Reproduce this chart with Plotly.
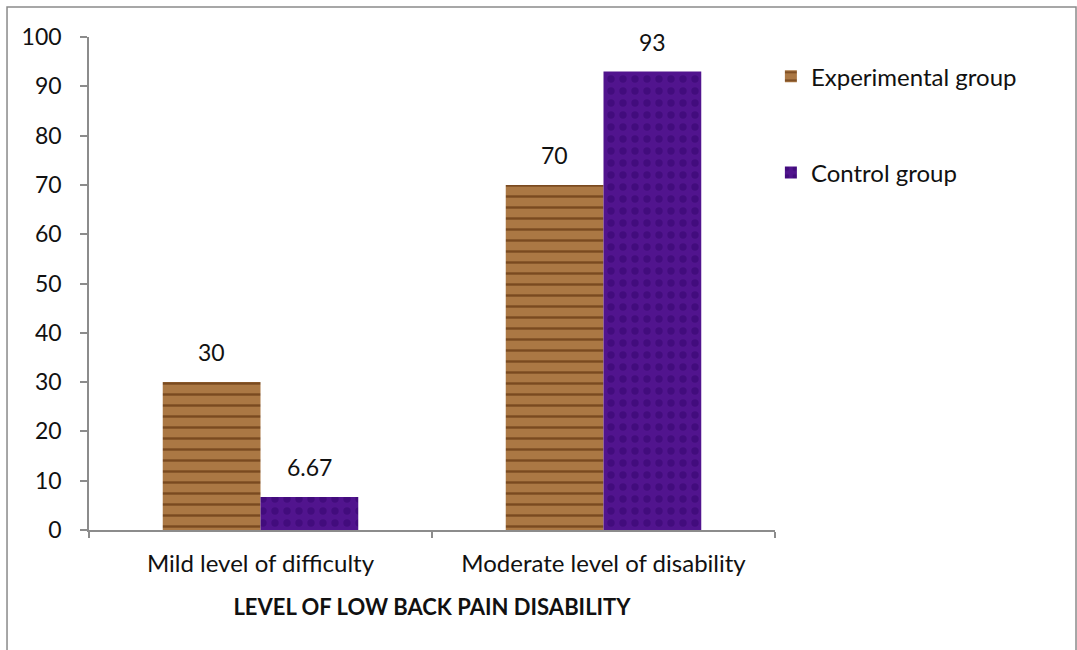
import plotly.graph_objects as go

# Chart data
categories = ["Mild level of difficulty", "Moderate level of disability"]
experimental = [30, 70]
control = [6.67, 93]
experimental_labels = ["30", "70"]
control_labels = ["6.67", "93"]
y_ticks = [0, 10, 20, 30, 40, 50, 60, 70, 80, 90, 100]

FONT = "Lato, 'Open Sans', sans-serif"
AXIS_GREY = "#8c8c8c"
TEXT = "#111111"
HALF_BAR_PX = 49  # half of one bar's width in pixels, used to centre value labels

fig = go.Figure()

fig.add_trace(go.Bar(
    name="Experimental group",
    x=categories,
    y=experimental,
    legendgroup="exp",
    marker=dict(
        color="#a8733f",
        line=dict(width=0),
        pattern=dict(shape="-", fgcolor="#7a4a20", bgcolor="#ab7844",
                     size=11, solidity=0.22, fillmode="replace"),
    ),
))

fig.add_trace(go.Bar(
    name="Control group",
    x=categories,
    y=control,
    legendgroup="ctl",
    marker=dict(
        color="#4f1290",
        line=dict(width=0),
        pattern=dict(shape=".", fgcolor="#420c7d", bgcolor="#51148e",
                     size=12, solidity=0.3, fillmode="replace"),
    ),
))

# Value labels above each bar
annotations = []
for values, labels, shift in ((experimental, experimental_labels, -HALF_BAR_PX),
                              (control, control_labels, HALF_BAR_PX)):
    for cat, val, lab in zip(categories, values, labels):
        annotations.append(dict(
            x=cat, y=val, xref="x", yref="y", text=lab, showarrow=False,
            xshift=shift, yshift=14, yanchor="bottom",
            font=dict(family=FONT, size=23, color=TEXT),
        ))

fig.update_layout(
    width=1077,
    height=650,
    margin=dict(l=89, r=302, t=37, b=120),
    paper_bgcolor="white",
    plot_bgcolor="white",
    barmode="group",
    bargap=0.43,
    bargroupgap=0,
    font=dict(family=FONT, size=22, color=TEXT),
    showlegend=True,
    legend=dict(
        x=0.994, y=0.965, xanchor="left", yanchor="top",
        font=dict(family=FONT, size=24, color=TEXT),
        tracegroupgap=62,
        bgcolor="rgba(0,0,0,0)",
        itemwidth=30,
    ),
    xaxis=dict(
        showline=True, linecolor=AXIS_GREY, linewidth=1.5,
        ticks="outside", tickson="boundaries", ticklen=6,
        tickcolor=AXIS_GREY, tickwidth=1.5,
        ticklabelstandoff=11,
        tickfont=dict(family=FONT, size=24, color=TEXT),
        title=dict(text="<b>LEVEL OF LOW BACK PAIN DISABILITY</b>",
                   font=dict(family=FONT, size=22, color=TEXT),
                   standoff=24),
        showgrid=False, zeroline=False,
    ),
    yaxis=dict(
        range=[0, 100],
        tickvals=y_ticks,
        showline=True, linecolor=AXIS_GREY, linewidth=1.5,
        ticks="outside", ticklen=7, tickcolor=AXIS_GREY, tickwidth=1.5,
        ticklabelstandoff=14,
        tickfont=dict(family=FONT, size=23, color=TEXT),
        showgrid=False, zeroline=False,
    ),
    annotations=annotations,
    shapes=[dict(
        type="rect", xref="paper", yref="paper",
        x0=-0.1195, x1=1.4388, y0=-0.26, y1=1.0609,
        line=dict(color="#8a8a8a", width=1.5),
        fillcolor="rgba(0,0,0,0)",
    )],
)

fig.write_html("out.html")
